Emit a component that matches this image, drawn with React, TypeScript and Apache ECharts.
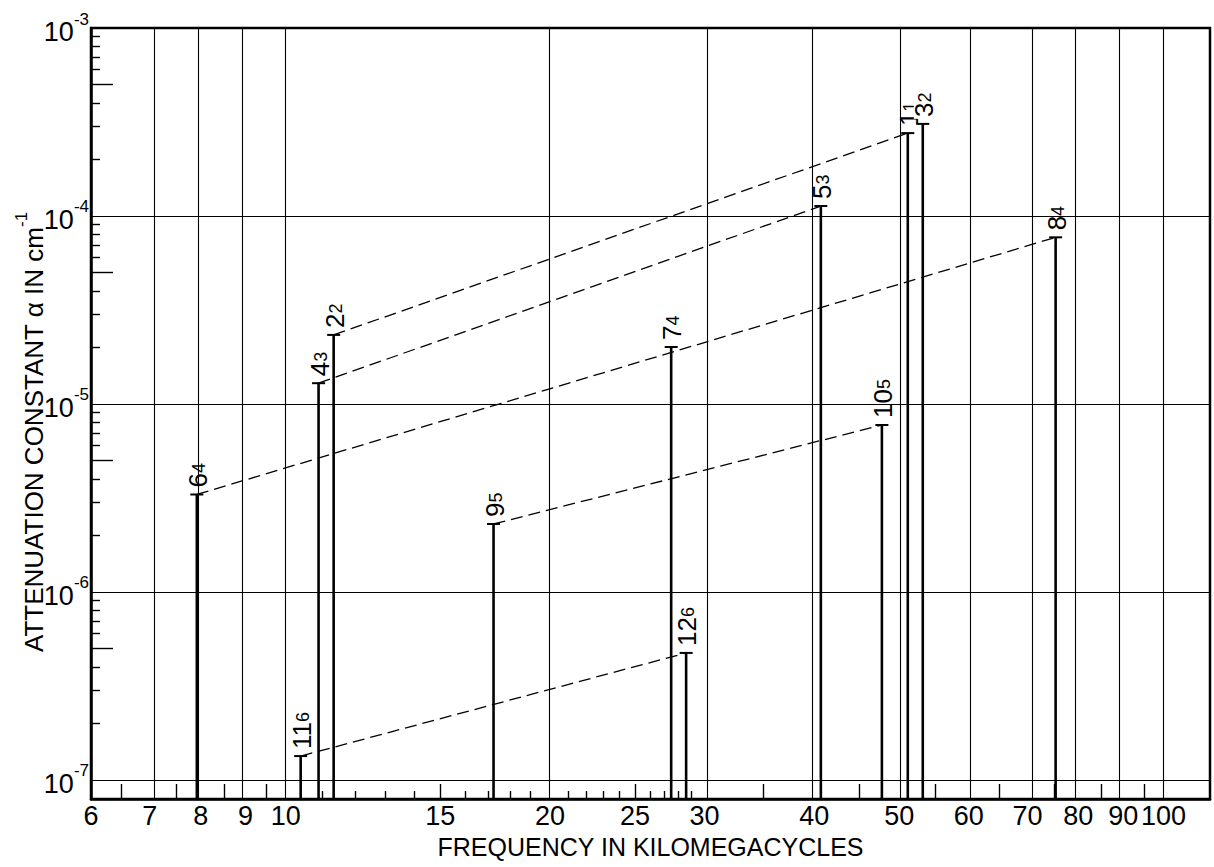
import React, { useEffect, useRef } from 'react';
import * as echarts from 'echarts';

// ---- data ----
const modeNumbers = ['6', '11', '4', '2', '9', '7', '12', '5', '10', '1', '3', '8'];
const modeSubscripts = ['4', '6', '3', '2', '5', '4', '6', '3', '5', '1', '2', '4'];
const frequencies = [7.92, 10.4, 10.9, 11.34, 17.25, 27.49, 28.59, 40.71, 47.78, 51.14, 53.19, 75.37];
const attenuations = [3.3e-6, 1.34e-7, 1.29e-5, 2.33e-5, 2.3e-6, 2.01e-5, 4.74e-7, 1.13e-4, 7.73e-6, 2.76e-4, 3.09e-4, 7.7e-5];
// dashed connectors between modes (indices into the arrays above)
const connectors = [
  [0, 11],
  [2, 7],
  [3, 9],
  [4, 8],
  [1, 6],
];

const xLabelValues = [6, 7, 8, 9, 10, 15, 20, 25, 30, 40, 50, 60, 70, 80, 90, 100];
const xGridValues = [7, 8, 9, 10, 20, 30, 40, 50, 60, 70, 80, 90, 100];
const xLongTicks = [6.5, 7.5, 8.5, 9.5, 15, 25, 35, 45, 55, 65, 75, 85, 95];
const xShortTicks = [11, 12, 13, 14, 16, 17, 18, 19, 21, 22, 23, 24, 26, 27, 28, 29];
const yLabelExponents = [-3, -4, -5, -6, -7];
const yGridExponents = [-4, -5, -6, -7];
const yTickDecades = [-7, -6, -5, -4];
const yShortMantissas = [2, 3, 4, 6, 7, 8, 9];
const yLongMantissas = [5];

const X_MIN = 6;
const X_MAX = 113;
const Y_MIN = 7.92e-8;
const Y_MAX = 1e-3;

const FONT = "'Liberation Sans', Arial, sans-serif";
const lg = (v: number) => Math.log10(v);

const yShortTicks = yTickDecades.flatMap((d) => yShortMantissas.map((m) => d + lg(m)));
const yLongTicks = yTickDecades.flatMap((d) => yLongMantissas.map((m) => d + lg(m)));

function tickAxis(dim: 'x' | 'y', values: number[], length: number) {
  const isX = dim === 'x';
  return {
    type: 'value',
    min: isX ? lg(X_MIN) : lg(Y_MIN),
    max: isX ? lg(X_MAX) : lg(Y_MAX),
    position: isX ? 'bottom' : 'left',
    axisLine: { show: false },
    splitLine: { show: false },
    axisLabel: { show: false },
    axisTick: {
      show: true,
      inside: true,
      length,
      customValues: values,
      lineStyle: { color: '#000', width: 1.4 },
    },
  };
}

export default function App() {
  const ref = useRef<HTMLDivElement>(null);

  useEffect(() => {
    if (!ref.current) return;
    const chart = echarts.init(ref.current, undefined, { renderer: 'svg' });

    const barData = frequencies.map((f, i) => [lg(f), lg(attenuations[i]), i]);

    const connectorSeries = connectors.map(([a, b]) => ({
      type: 'line',
      xAxisIndex: 0,
      yAxisIndex: 0,
      symbol: 'none',
      silent: true,
      z: 3,
      lineStyle: { color: '#000', width: 1.3, type: [12, 6] },
      data: [
        [lg(frequencies[a]), lg(attenuations[a])],
        [lg(frequencies[b]), lg(attenuations[b])],
      ],
    }));

    const option: any = {
      animation: false,
      backgroundColor: '#fff',
      grid: {
        left: 91,
        right: 4,
        top: 28,
        bottom: 68,
        show: true,
        borderColor: '#000',
        borderWidth: 2.5,
      },
      xAxis: [
        {
          type: 'value',
          min: lg(X_MIN),
          max: lg(X_MAX),
          position: 'bottom',
          axisLine: { show: true, lineStyle: { color: '#000', width: 2.5 } },
          axisTick: { show: false },
          splitLine: { show: false },
          axisLabel: {
            show: true,
            customValues: xLabelValues.map(lg),
            formatter: (v: number) => String(Math.round(Math.pow(10, v))),
            color: '#000',
            fontSize: 27,
            fontFamily: FONT,
            margin: 3,
          },
          name: 'FREQUENCY IN KILOMEGACYCLES',
          nameLocation: 'middle',
          nameGap: 35,
          nameTextStyle: { color: '#000', fontSize: 25, fontFamily: FONT },
        },
        tickAxis('x', xLongTicks.map(lg), 15),
        tickAxis('x', xShortTicks.map(lg), 8),
      ],
      yAxis: [
        {
          type: 'value',
          min: lg(Y_MIN),
          max: lg(Y_MAX),
          position: 'left',
          axisLine: { show: true, lineStyle: { color: '#000', width: 2.5 } },
          axisTick: { show: false },
          splitLine: { show: false },
          axisLabel: {
            show: true,
            customValues: yLabelExponents,
            formatter: (v: number) => `{b|10}{s|${Math.round(v)}}`,
            margin: 2,
            rich: {
              b: { fontSize: 27, fontFamily: FONT, color: '#000', padding: [8, 0, 0, 0] },
              s: { fontSize: 17, fontFamily: FONT, color: '#000', verticalAlign: 'top' },
            },
          },
        },
        tickAxis('y', yLongTicks, 22),
        tickAxis('y', yShortTicks, 9),
      ],
      graphic: [
        {
          type: 'text',
          x: 30,
          y: 432,
          rotation: Math.PI / 2,
          style: {
            text: '{n|ATTENUATION CONSTANT α IN cm}{s|-1}',
            align: 'center',
            verticalAlign: 'middle',
            fill: '#000',
            rich: {
              n: { fontSize: 26, fontFamily: FONT, fill: '#000', padding: [8, 0, 0, 0] },
              s: { fontSize: 17, fontFamily: FONT, fill: '#000', verticalAlign: 'top' },
            },
          },
        },
      ],
      series: [
        {
          type: 'line',
          xAxisIndex: 0,
          yAxisIndex: 0,
          data: [],
          silent: true,
          z: 1,
          markLine: {
            silent: true,
            symbol: ['none', 'none'],
            label: { show: false },
            lineStyle: { color: '#000', width: 1.1, type: 'solid' },
            emphasis: { disabled: true },
            data: [
              ...xGridValues.map((v) => ({ xAxis: lg(v) })),
              ...yGridExponents.map((e) => ({ yAxis: e })),
            ],
          },
        },
        ...connectorSeries,
        {
          type: 'custom',
          xAxisIndex: 0,
          yAxisIndex: 0,
          silent: true,
          z: 4,
          data: barData,
          renderItem: (params: any, api: any) => {
            const x = api.value(0);
            const y = api.value(1);
            const i = api.value(2);
            const top = api.coord([x, y]);
            const cs = params.coordSys;
            const bottomY = cs.y + cs.height;
            return {
              type: 'group',
              children: [
                {
                  type: 'line',
                  shape: { x1: top[0], y1: top[1], x2: top[0], y2: bottomY },
                  style: { stroke: '#000', lineWidth: 2.6 },
                },
                {
                  type: 'line',
                  shape: { x1: top[0] - 6.5, y1: top[1], x2: top[0] + 6.5, y2: top[1] },
                  style: { stroke: '#000', lineWidth: 2 },
                },
                {
                  type: 'text',
                  x: top[0] + 1,
                  y: top[1] - 5,
                  rotation: Math.PI / 2,
                  style: {
                    text: `{m|${modeNumbers[i]}}{s|${modeSubscripts[i]}}`,
                    align: 'left',
                    verticalAlign: 'middle',
                    fill: '#000',
                    backgroundColor: '#fff',
                    padding: [0, 3, 0, 2],
                    rich: {
                      m: { fontSize: 26, lineHeight: 20, fontFamily: FONT, fill: '#000' },
                      s: {
                        fontSize: 18,
                        lineHeight: 14,
                        fontFamily: FONT,
                        fill: '#000',
                        verticalAlign: 'bottom',
                        padding: [12, 0, 0, 0],
                      },
                    },
                  },
                },
              ],
            };
          },
        },
      ],
    };

    chart.setOption(option);
    return () => chart.dispose();
  }, []);

  return (
    <div
      ref={ref}
      style={{ position: 'fixed', left: 0, top: 0, width: 1214, height: 867, background: '#fff' }}
    />
  );
}
